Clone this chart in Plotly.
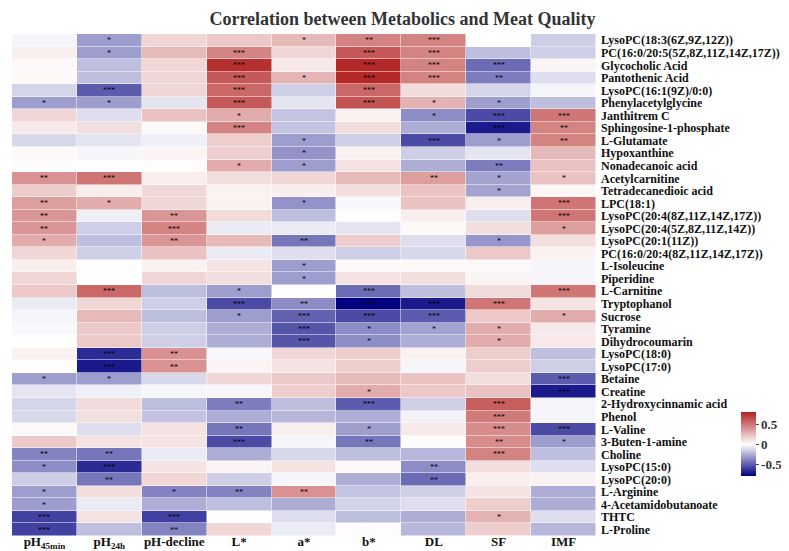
import plotly.graph_objects as go

# Traits (columns) and metabolites (rows)
traits = ["pH<sub>45min</sub>", "pH<sub>24h</sub>", "pH-decline", "L*", "a*", "b*", "DL", "SF", "IMF"]

metabolites = [
    "LysoPC(18:3(6Z,9Z,12Z))", "PC(16:0/20:5(5Z,8Z,11Z,14Z,17Z))", "Glycocholic Acid",
    "Pantothenic Acid", "LysoPC(16:1(9Z)/0:0)", "Phenylacetylglycine", "Janthitrem C",
    "Sphingosine-1-phosphate", "L-Glutamate", "Hypoxanthine", "Nonadecanoic acid",
    "Acetylcarnitine", "Tetradecanedioic acid", "LPC(18:1)", "LysoPC(20:4(8Z,11Z,14Z,17Z))",
    "LysoPC(20:4(5Z,8Z,11Z,14Z))", "LysoPC(20:1(11Z))", "PC(16:0/20:4(8Z,11Z,14Z,17Z))",
    "L-Isoleucine", "Piperidine", "L-Carnitine", "Tryptophanol", "Sucrose", "Tyramine",
    "Dihydrocoumarin", "LysoPC(18:0)", "LysoPC(17:0)", "Betaine", "Creatine",
    "2-Hydroxycinnamic acid", "Phenol", "L-Valine", "3-Buten-1-amine", "Choline",
    "LysoPC(15:0)", "LysoPC(20:0)", "L-Arginine", "4-Acetamidobutanoate", "THTC", "L-Proline",
]

# Correlation coefficients (rows follow metabolites, columns follow traits)
corr = [
    [-0.03, -0.30, 0.15, 0.20, 0.25, 0.45, 0.45, 0.00, -0.15],
    [0.06, -0.30, 0.25, 0.45, 0.15, 0.60, 0.45, -0.20, -0.15],
    [0.02, -0.20, 0.15, 0.75, 0.08, 0.78, 0.45, -0.45, 0.04],
    [0.02, -0.20, 0.15, 0.60, 0.27, 0.78, 0.45, -0.40, -0.10],
    [-0.13, -0.50, 0.15, 0.55, -0.15, 0.55, 0.13, -0.13, -0.03],
    [-0.30, -0.30, -0.08, 0.60, -0.08, 0.62, 0.28, -0.30, -0.20],
    [0.15, -0.10, 0.22, 0.30, -0.18, 0.05, -0.35, -0.55, 0.50],
    [0.08, 0.12, 0.02, 0.45, -0.18, 0.12, -0.25, -0.70, 0.45],
    [-0.12, -0.08, -0.05, 0.18, -0.30, -0.15, -0.55, -0.30, 0.45],
    [0.02, -0.03, 0.04, 0.18, -0.33, 0.05, -0.15, -0.08, 0.25],
    [0.01, 0.00, 0.01, 0.30, -0.30, 0.10, -0.25, -0.40, 0.22],
    [0.40, 0.50, 0.06, 0.12, 0.15, 0.25, 0.35, -0.28, 0.22],
    [0.18, 0.07, 0.15, 0.05, 0.06, 0.12, 0.22, -0.28, 0.03],
    [0.35, 0.30, 0.15, 0.05, -0.33, -0.02, 0.22, 0.06, 0.50],
    [0.38, -0.05, 0.38, 0.13, -0.20, 0.01, 0.06, -0.10, 0.50],
    [0.38, -0.15, 0.45, -0.06, -0.06, -0.08, 0.02, 0.12, 0.35],
    [0.30, -0.20, 0.38, 0.25, -0.42, 0.18, -0.10, -0.32, 0.12],
    [0.15, -0.15, 0.22, -0.06, -0.10, -0.15, -0.12, 0.20, 0.05],
    [0.06, 0.01, 0.05, 0.10, -0.30, 0.02, 0.02, 0.02, -0.03],
    [0.15, 0.00, 0.15, 0.12, -0.30, 0.10, 0.12, 0.04, -0.03],
    [0.20, 0.55, -0.20, -0.30, 0.00, -0.45, -0.20, 0.13, 0.50],
    [-0.06, 0.15, -0.15, -0.55, -0.35, -0.78, -0.70, 0.50, 0.10],
    [-0.03, 0.25, -0.20, -0.30, -0.48, -0.55, -0.50, 0.20, 0.30],
    [-0.02, 0.20, -0.15, -0.25, -0.52, -0.35, -0.28, 0.30, 0.08],
    [0.00, 0.20, -0.15, -0.25, -0.52, -0.35, -0.25, 0.30, 0.08],
    [0.05, -0.65, 0.40, -0.02, 0.15, 0.18, 0.05, 0.18, -0.20],
    [0.01, -0.70, 0.40, 0.04, 0.10, 0.18, -0.03, 0.18, -0.15],
    [-0.30, -0.30, -0.12, 0.15, 0.20, 0.25, 0.22, 0.12, -0.50],
    [-0.08, -0.05, -0.03, -0.03, 0.18, 0.30, 0.20, 0.22, -0.70],
    [-0.13, 0.13, -0.20, -0.40, -0.20, -0.50, -0.15, 0.58, -0.03],
    [-0.12, 0.12, -0.18, -0.25, -0.22, -0.25, -0.04, 0.48, -0.03],
    [0.02, -0.10, 0.10, -0.42, 0.06, -0.30, 0.08, 0.42, -0.55],
    [0.20, 0.10, 0.10, -0.55, -0.03, -0.42, 0.01, 0.42, -0.30],
    [-0.38, -0.42, -0.06, -0.25, -0.12, -0.20, -0.22, 0.45, -0.20],
    [-0.35, -0.65, 0.10, 0.04, 0.10, 0.02, -0.35, 0.12, -0.10],
    [-0.15, -0.42, 0.15, -0.15, -0.03, -0.25, -0.45, 0.06, 0.05],
    [-0.30, 0.12, -0.38, -0.38, 0.40, -0.18, -0.15, 0.10, -0.25],
    [-0.30, -0.06, -0.25, -0.20, -0.25, -0.13, -0.10, 0.18, -0.25],
    [-0.58, 0.10, -0.58, 0.00, -0.10, -0.20, -0.25, 0.28, -0.10],
    [-0.58, -0.20, -0.38, 0.15, -0.06, 0.01, -0.22, 0.18, -0.22],
]

# Significance marks
stars = [
    ["", "*", "", "", "*", "**", "***", "", ""],
    ["", "*", "", "***", "", "***", "***", "", ""],
    ["", "", "", "***", "", "***", "***", "***", ""],
    ["", "", "", "***", "*", "***", "***", "**", ""],
    ["", "***", "", "***", "", "***", "", "", ""],
    ["*", "*", "", "***", "", "***", "*", "*", ""],
    ["", "", "", "*", "", "", "*", "***", "***"],
    ["", "", "", "***", "", "", "", "***", "**"],
    ["", "", "", "", "*", "", "***", "*", "**"],
    ["", "", "", "", "*", "", "", "", ""],
    ["", "", "", "*", "*", "", "", "**", ""],
    ["**", "***", "", "", "", "", "**", "*", "*"],
    ["", "", "", "", "", "", "", "*", ""],
    ["**", "*", "", "", "*", "", "", "", "***"],
    ["**", "", "**", "", "", "", "", "", "***"],
    ["**", "", "***", "", "", "", "", "", "*"],
    ["*", "", "**", "", "**", "", "", "*", ""],
    ["", "", "", "", "", "", "", "", ""],
    ["", "", "", "", "*", "", "", "", ""],
    ["", "", "", "", "*", "", "", "", ""],
    ["", "***", "", "*", "", "***", "", "", "***"],
    ["", "", "", "***", "**", "***", "***", "***", ""],
    ["", "", "", "*", "***", "***", "***", "", "*"],
    ["", "", "", "", "***", "*", "*", "*", ""],
    ["", "", "", "", "***", "*", "", "*", ""],
    ["", "***", "**", "", "", "", "", "", ""],
    ["", "***", "**", "", "", "", "", "", ""],
    ["*", "*", "", "", "", "", "", "", "***"],
    ["", "", "", "", "", "*", "", "", "***"],
    ["", "", "", "**", "", "***", "", "***", ""],
    ["", "", "", "", "", "", "", "***", ""],
    ["", "", "", "**", "", "*", "", "***", "***"],
    ["", "", "", "***", "", "**", "", "**", "*"],
    ["**", "**", "", "", "", "", "", "***", ""],
    ["*", "***", "", "", "", "", "**", "", ""],
    ["", "**", "", "", "", "", "**", "", ""],
    ["*", "", "*", "**", "**", "", "", "", ""],
    ["*", "", "", "", "", "", "", "", ""],
    ["***", "", "***", "", "", "", "", "*", ""],
    ["***", "", "**", "", "", "", "", "", ""],
]

zmin, zmax = -0.78, 0.80
mid = (0 - zmin) / (zmax - zmin)

fig = go.Figure(go.Heatmap(
    z=corr,
    x=traits,
    y=metabolites,
    text=stars,
    texttemplate="%{text}",
    textfont=dict(size=8, color="black", family="Liberation Serif"),
    colorscale=[[0, "#000080"], [mid, "#FFFFFF"], [1, "#B22222"]],
    zmin=zmin, zmax=zmax,
    xgap=0.5, ygap=0.5,
    colorbar=dict(
        x=1.232, xanchor="left",
        y=0.183, yanchor="middle",
        len=84, lenmode="pixels",
        thickness=15,
        outlinewidth=0,
        tickvals=[-0.5, 0, 0.5],
        ticktext=["-0.5", "0", "0.5"],
        ticks="outside", ticklen=3, tickcolor="#444",
        tickfont=dict(family="Liberation Serif", size=13, color="#333", weight="bold"),
    ),
))

fig.update_layout(
    width=789, height=551,
    margin=dict(l=4, r=182, t=26, b=23),
    paper_bgcolor="white", plot_bgcolor="white",
    title=dict(
        text="Correlation between Metabolics and Meat Quality",
        x=0.5, xref="container", xanchor="center",
        y=0.992, yref="container", yanchor="top",
        font=dict(family="Liberation Serif", size=18, color="#333", weight="bold"),
    ),
    xaxis=dict(
        side="bottom", showgrid=False, zeroline=False, ticks="",
        ticklabelstandoff=-4,
        tickfont=dict(family="Liberation Serif", size=13, color="#111", weight="bold"),
    ),
    yaxis=dict(
        side="right", autorange="reversed", showgrid=False, zeroline=False, ticks="",
        tickmode="linear", tick0=0, dtick=1,
        ticklabelstandoff=4,
        tickfont=dict(family="Liberation Serif", size=12, color="#111", weight="bold"),
    ),
)

fig.write_html("out.html")
